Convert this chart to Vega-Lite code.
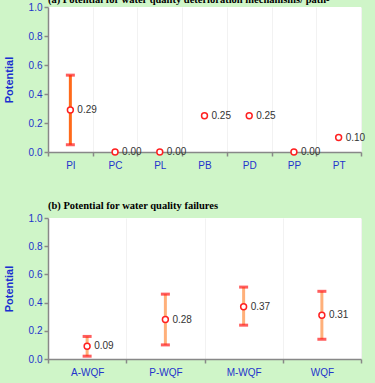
{
  "$schema": "https://vega.github.io/schema/vega-lite/v6.json",
  "background": "#cff5c8",
  "padding": {"left": 3, "top": -6, "right": 12, "bottom": 8},
  "spacing": 30,
  "config": {
    "view": {"stroke": null, "fill": "white"},
    "font": "Liberation Sans",
    "title": {"font": "Liberation Serif", "fontSize": 10.5, "fontWeight": "bold", "anchor": "start", "frame": "group", "color": "black", "offset": 2},
    "axis": {"domainColor": "#888888", "domainWidth": 1.5, "tickColor": "#888888", "tickWidth": 1.5, "tickSize": 4, "labelColor": "#2233cc", "labelFontSize": 10, "labelFont": "Liberation Sans", "titleColor": "#1a2fd0", "titleFont": "Liberation Sans", "titleFontSize": 11, "titleFontWeight": "bold"},
    "axisX": {"grid": true, "gridColor": "#f2f2f2", "tickBand": "extent", "labelPadding": 4, "labelAngle": 0, "title": null},
    "axisY": {"grid": false, "tickCount": 5, "format": ".1f", "titlePadding": 14, "labelPadding": 2}
  },
  "datasets": {
    "a": [
      {"cat": "PI", "v": 0.29, "lo": 0.05, "hi": 0.53},
      {"cat": "PC", "v": 0.0, "lo": null, "hi": null},
      {"cat": "PL", "v": 0.0, "lo": null, "hi": null},
      {"cat": "PB", "v": 0.25, "lo": null, "hi": null},
      {"cat": "PD", "v": 0.25, "lo": null, "hi": null},
      {"cat": "PP", "v": 0.0, "lo": null, "hi": null},
      {"cat": "PT", "v": 0.10, "lo": null, "hi": null}
    ],
    "b": [
      {"cat": "A-WQF", "v": 0.09, "lo": 0.02, "hi": 0.16},
      {"cat": "P-WQF", "v": 0.28, "lo": 0.10, "hi": 0.46},
      {"cat": "M-WQF", "v": 0.37, "lo": 0.24, "hi": 0.51},
      {"cat": "WQF", "v": 0.31, "lo": 0.14, "hi": 0.48}
    ]
  },
  "vconcat": [
    {
      "title": {"text": "(a) Potential for water quality deterioration mechanisms/ path-", "offset": -3},
      "width": 313,
      "height": 145,
      "data": {"name": "a"},
      "encoding": {
        "x": {"field": "cat", "type": "nominal", "sort": null, "scale": {"paddingInner": 0, "paddingOuter": 0}}
      },
      "layer": [
        {"mark": {"type": "rule", "strokeWidth": 3, "color": "#ff6a1a"},
         "encoding": {"y": {"field": "lo", "type": "quantitative", "scale": {"domain": [0, 1]}, "title": "Potential"}, "y2": {"field": "hi"}}},
        {"mark": {"type": "tick", "color": "#ff1a1a", "thickness": 3, "size": 9},
         "encoding": {"y": {"field": "lo", "type": "quantitative", "title": "Potential"}}},
        {"mark": {"type": "tick", "color": "#ff1a1a", "thickness": 3, "size": 9},
         "encoding": {"y": {"field": "hi", "type": "quantitative", "title": "Potential"}}},
        {"mark": {"type": "point", "shape": "circle", "filled": true, "fill": "white", "stroke": "#ff2020", "strokeWidth": 1.5, "size": 35, "opacity": 1},
         "encoding": {"y": {"field": "v", "type": "quantitative", "title": "Potential"}}},
        {"mark": {"type": "text", "align": "left", "dx": 7, "fontSize": 10, "color": "#333333"},
         "encoding": {"y": {"field": "v", "type": "quantitative", "title": "Potential"}, "text": {"field": "v", "type": "quantitative", "format": ".2f"}}}
      ]
    },
    {
      "title": "(b) Potential for water quality failures",
      "width": 313,
      "height": 141,
      "data": {"name": "b"},
      "encoding": {
        "x": {"field": "cat", "type": "nominal", "sort": null, "scale": {"paddingInner": 0, "paddingOuter": 0}}
      },
      "layer": [
        {"mark": {"type": "rule", "strokeWidth": 3, "color": "#ffb07a"},
         "encoding": {"y": {"field": "lo", "type": "quantitative", "scale": {"domain": [0, 1]}, "title": "Potential"}, "y2": {"field": "hi"}}},
        {"mark": {"type": "tick", "color": "#ff1a1a", "thickness": 3, "size": 9},
         "encoding": {"y": {"field": "lo", "type": "quantitative", "title": "Potential"}}},
        {"mark": {"type": "tick", "color": "#ff1a1a", "thickness": 3, "size": 9},
         "encoding": {"y": {"field": "hi", "type": "quantitative", "title": "Potential"}}},
        {"mark": {"type": "point", "shape": "circle", "filled": true, "fill": "white", "stroke": "#ff2020", "strokeWidth": 1.5, "size": 35, "opacity": 1},
         "encoding": {"y": {"field": "v", "type": "quantitative", "title": "Potential"}}},
        {"mark": {"type": "text", "align": "left", "dx": 7, "fontSize": 10, "color": "#333333"},
         "encoding": {"y": {"field": "v", "type": "quantitative", "title": "Potential"}, "text": {"field": "v", "type": "quantitative", "format": ".2f"}}}
      ]
    }
  ]
}
